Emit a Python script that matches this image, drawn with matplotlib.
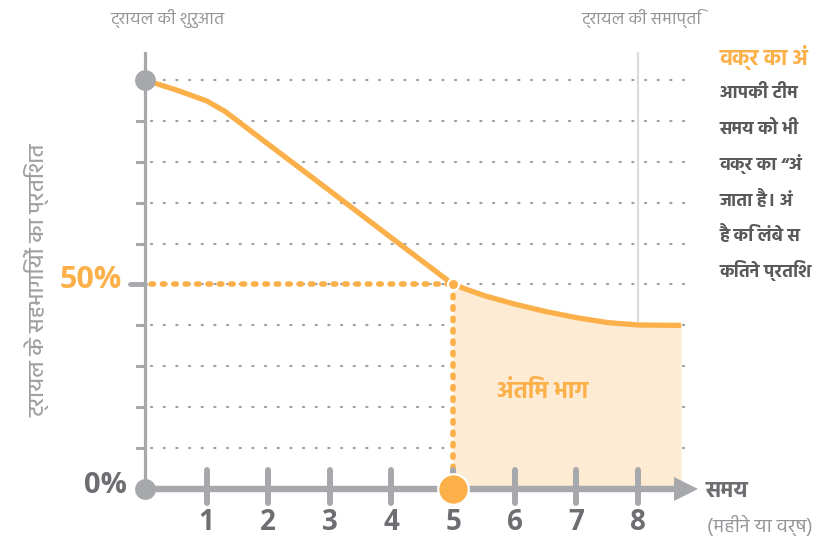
import matplotlib
matplotlib.use("Agg")
import matplotlib.pyplot as plt
import numpy as np

# curve of trial participants over time (months / years)
months = [0, 0.5, 1.0, 1.3, 2, 3, 4, 5, 5.5, 6, 6.5, 7, 7.5, 8, 8.7]
percent = [100, 97.6, 94.9, 92.3, 84.3, 72.9, 61.4, 50, 47.3, 45.2, 43.4, 41.9, 40.7, 40.1, 40.0]
tail_start = 5
trial_end = 8
x_ticks = [1, 2, 3, 4, 5, 6, 7, 8]
grid_levels = [10, 20, 30, 40, 50, 60, 70, 80, 90, 100]

# side note, as much as the picture shows of it
note_title = "वक्र का अं"
note_lines = [
    "आपकी टीम",
    "समय को भी",
    "वक्र का “अं",
    "जाता है। अं",
    "है कि लंबे स",
    "कितने प्रतिश",
]

ORANGE = "#fbb04a"
FILL = "#fdebd4"
AXIS = "#a7a8ab"
DARK = "#6d6e71"
LIGHT = "#939598"
DEVA = ["Hind", "Open Sans", "DejaVu Sans"]

fig = plt.figure(figsize=(8.17, 5.42), dpi=100)
ax = fig.add_axes([0, 0, 1, 1])
ax.set_xlim(-2.353, 10.905)
ax.set_ylim(-12.96, 119.56)
ax.axis("off")

# dotted grid lines + small ticks on the y axis
for g in grid_levels:
    ax.plot([0.1, 8.85], [g, g], color="#a0a0a3", lw=1.6,
            linestyle=(0, (0.5, 5.2)), dash_capstyle="round", zorder=1)
    ax.plot([-0.13, 0], [g, g], color=AXIS, lw=2.2, zorder=2)
ax.plot([-0.25, 0], [50, 50], color=AXIS, lw=3.5, solid_capstyle="round", zorder=2)

# trial end line and y axis
ax.plot([trial_end, trial_end], [0, 106.5], color="#dcdcdc", lw=1.6, zorder=1)
ax.plot([0, 0], [0, 106.5], color=AXIS, lw=2.3, zorder=2)

# tail area
m = np.array(months)
p = np.array(percent)
mask = m >= tail_start
ax.fill_between(m[mask], 0, p[mask], color=FILL, lw=0, zorder=1.5)
ax.text(6.45, 24, "अंतिम भाग", color=ORANGE, fontsize=17, fontweight="bold",
        family=DEVA, ha="center", va="center", zorder=3)

# orange guides at 50%
y_tail = p[m == tail_start][0]
ax.plot([0.1, tail_start], [y_tail, y_tail], color=ORANGE, lw=4.0,
        linestyle=(0, (0.45, 1.6)), dash_capstyle="round", zorder=3)
ax.plot([tail_start, tail_start], [y_tail, 0], color=ORANGE, lw=4.0,
        linestyle=(0, (0.45, 1.6)), dash_capstyle="round", zorder=3)

# the curve
ax.plot(m, p, color=ORANGE, lw=3.8, solid_capstyle="butt", zorder=4)

# x axis with arrow and ticks
ax.plot([0, 8.95 - 0.25], [0, 0], color=AXIS, lw=4.6, zorder=5)
ax.plot([8.95 - 0.17], [0], marker=">", markersize=17, color=AXIS, markeredgewidth=0, zorder=5)
for t in x_ticks:
    ax.plot([t, t], [4.6, -3.4], color=AXIS, lw=4.3, solid_capstyle="round", zorder=5)
    ax.text(t, -8.2, str(t), color=DARK, fontsize=20, fontweight="bold",
            family="Open Sans", ha="center", va="center", zorder=6)

# markers
ax.plot([0], [100], "o", markersize=15, color=AXIS, markeredgewidth=0, zorder=6)
ax.plot([0], [0], "o", markersize=15, color=AXIS, markeredgewidth=0, zorder=6)
ax.plot([tail_start], [0], "o", markersize=22, color=ORANGE, markeredgecolor="white",
        markeredgewidth=1.6, zorder=6)
ax.plot([tail_start], [y_tail], "o", markersize=8, color=ORANGE, markeredgecolor="white",
        markeredgewidth=1.5, zorder=6)

# value labels
ax.text(-0.37, 51.2, "50%", color=ORANGE, fontsize=22, fontweight="bold",
        family="Open Sans", ha="right", va="center")
ax.text(-0.3, 0.9, "0%", color=DARK, fontsize=21, fontweight="bold",
        family="Open Sans", ha="right", va="center")

# axis titles
ax.text(9.1, -0.6, "समय", color=DARK, fontsize=16, fontweight="bold",
        family=DEVA, ha="left", va="center")
ax.text(9.12, -8.9, "(महीने या वर्ष)", color=LIGHT, fontsize=14,
        family=DEVA, ha="left", va="center")
ax.text(-1.75, 51, "ट्रायल के सहभागियों का प्रतिशत", color="#a0a0a3", fontsize=16,
        family=DEVA, fontweight="medium", rotation=90, ha="center", va="center")
ax.text(0.37, 115, "ट्रायल की शुरुआत", color=LIGHT, fontsize=12.5,
        family=DEVA, ha="center", va="center")
ax.text(8.05, 115, "ट्रायल की समाप्ति", color=LIGHT, fontsize=12.5,
        family=DEVA, ha="center", va="center")

ax.text(9.33, 105.5, note_title, color=ORANGE, fontsize=15.5, fontweight="bold",
        family=DEVA, ha="left", va="center")
for i, line in enumerate(note_lines):
    ax.text(9.33, 96.9 - i * 8.7, line, color="#58595b", fontsize=13, fontweight="bold",
            family=DEVA, ha="left", va="center")

fig.savefig("out.png", dpi=100)
